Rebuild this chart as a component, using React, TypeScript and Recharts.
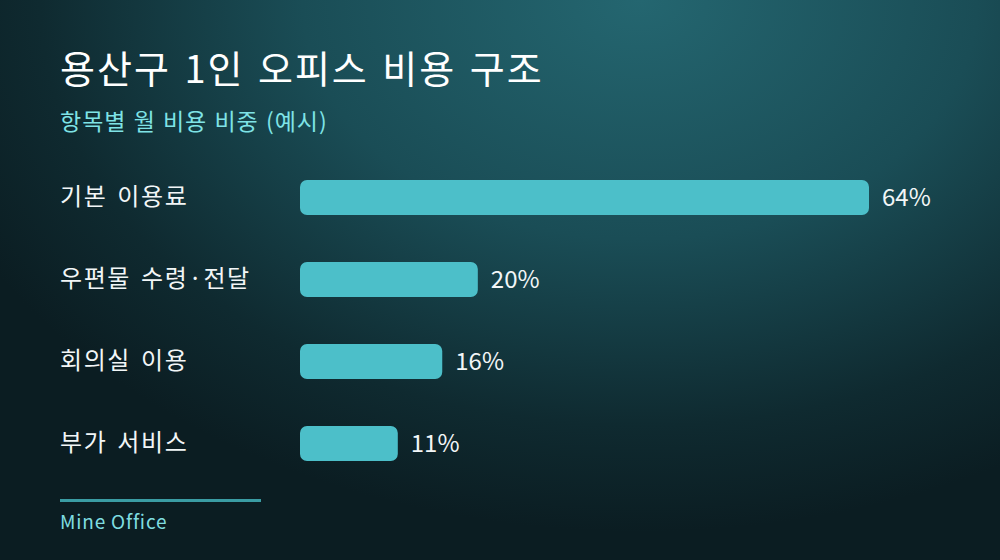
import { BarChart, Bar, XAxis, YAxis, LabelList } from "recharts";

const categories = ["기본 이용료", "우편물 수령·전달", "회의실 이용", "부가 서비스"];
const shares = [64, 20, 16, 11];

const data = categories.map((name, i) => ({ name, value: shares[i] }));

const FONT = "'Noto Sans CJK KR', 'Noto Sans', sans-serif";

function CategoryTick(props: any) {
  const { y, payload } = props;
  return (
    <text
      x={60}
      y={y - 3}
      dominantBaseline="central"
      textAnchor="start"
      fill="#f2f6f7"
      fontSize={24}
      letterSpacing={1.6}
      wordSpacing={3}
      fontFamily={FONT}
    >
      {payload.value}
    </text>
  );
}

export default function App() {
  return (
    <div
      style={{
        position: "relative",
        width: 1000,
        height: 560,
        overflow: "hidden",
        fontFamily: FONT,
        background: "radial-gradient(ellipse 75% 95% at 64% 0%, #246670 0%, #1a4d56 45%, #0f2a30 80%, #0b1d22 100%)",
      }}
    >
      <style>{`body{margin:0}`}</style>
      <svg width={1000} height={560} style={{ position: "absolute", left: 0, top: 0 }}>
        <text x={60} y={83} fill="#ffffff" fontSize={38} fontWeight={400} letterSpacing={2} wordSpacing={3} fontFamily={FONT}>
          용산구 1인 오피스 비용 구조
        </text>
        <text x={60} y={130} fill="#7fe3e6" fontSize={23} letterSpacing={1} wordSpacing={1} fontFamily={FONT}>
          항목별 월 비용 비중 (예시)
        </text>
        <rect x={60} y={499} width={201} height={3} fill="#3a9ca3" />
        <text x={60} y={529} fill="#7fdde0" fontSize={19} letterSpacing={0.8} fontFamily={FONT}>
          Mine Office
        </text>
      </svg>
      <div style={{ position: "absolute", left: 0, top: 0 }}>
        <BarChart
          width={1000}
          height={560}
          data={data}
          layout="vertical"
          margin={{ top: 156, right: 131, bottom: 76, left: 0 }}
          barCategoryGap={0}
        >
          <XAxis type="number" domain={[0, 64]} hide />
          <YAxis
            type="category"
            dataKey="name"
            width={300}
            axisLine={false}
            tickLine={false}
            tick={<CategoryTick />}
          />
          <Bar dataKey="value" fill="#4cbfc9" barSize={35} radius={[7, 7, 7, 7]} isAnimationActive={false}>
            <LabelList
              dataKey="value"
              position="right"
              offset={13}
              formatter={(v: any) => `${v}%`}
              fill="#f2f6f7"
              fontSize={24}
              fontFamily={FONT}
            />
          </Bar>
        </BarChart>
      </div>
    </div>
  );
}
